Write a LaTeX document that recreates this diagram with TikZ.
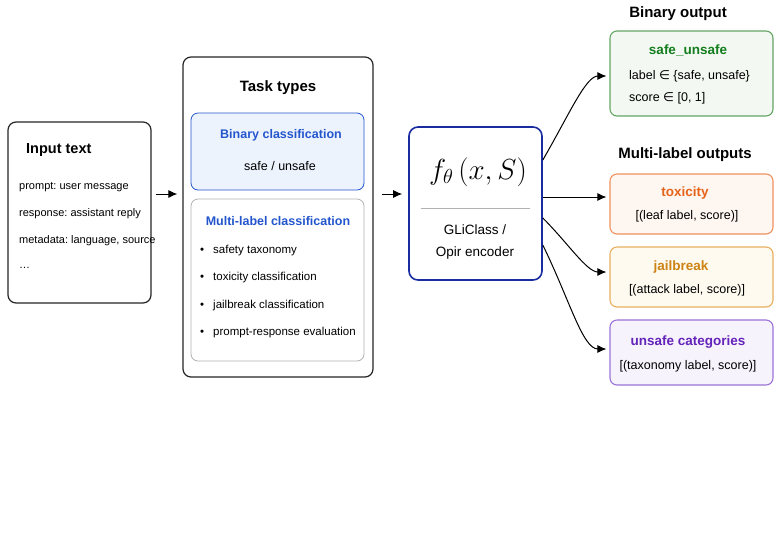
\RequirePackage{fix-cm}
\documentclass[tikz,border=0pt]{standalone}
\usepackage{fontspec}
\setmainfont{Liberation Sans}
\newfontfamily\symfont{DejaVu Sans}
\usetikzlibrary{arrows.meta,positioning,calc}
\definecolor{taskblue}{RGB}{35,85,205}
\definecolor{binfill}{RGB}{236,243,253}
\definecolor{modelblue}{RGB}{25,45,160}
\definecolor{safegreen}{RGB}{20,125,30}
\definecolor{safeedge}{RGB}{100,165,100}
\definecolor{safefill}{RGB}{243,249,242}
\definecolor{toxorange}{RGB}{230,100,25}
\definecolor{toxedge}{RGB}{240,145,95}
\definecolor{toxfill}{RGB}{254,246,241}
\definecolor{jailamber}{RGB}{205,130,20}
\definecolor{jailedge}{RGB}{232,175,95}
\definecolor{jailfill}{RGB}{254,250,239}
\definecolor{catpurple}{RGB}{100,35,185}
\definecolor{catedge}{RGB}{155,115,215}
\definecolor{catfill}{RGB}{247,243,253}
\newcommand{\elem}{{\symfont\char"2208}}
\frenchspacing

\begin{document}
\begin{tikzpicture}[x=1pt,y=1pt,
  panel/.style={draw=black!85,line width=1.2pt,rounded corners=8pt},
  subbox/.style={draw,line width=0.8pt,rounded corners=7pt,
    minimum width=173pt},
  outbox/.style={draw,line width=1.1pt,rounded corners=7pt,
    minimum width=163pt},
  head/.style={font=\fontsize{15}{18}\selectfont\bfseries},
  ttl/.style={font=\fontsize{13.5}{16}\selectfont\bfseries},
  small/.style={font=\fontsize{11}{13}\selectfont,anchor=west,inner sep=0pt},
  item/.style={font=\fontsize{11.5}{14}\selectfont,anchor=west,inner sep=0pt},
  body/.style={font=\fontsize{12.5}{15}\selectfont},
  arr/.style={-{Latex[length=9pt,width=8pt]},line width=1pt}
]
\fill[white] (0,0) rectangle (781,-550);

\node[panel,minimum width=143pt,minimum height=181pt] (input) at (79.5,-212.5) {};
\node[font=\fontsize{14.5}{17}\selectfont\bfseries,anchor=west,inner sep=0pt]
  (inputttl) at (26,-150) {Input text};
\node[small] (prompt) at (19,-187) {prompt: user message};
\node[small] (response) at (19,-214) {response: assistant reply};
\node[small] (meta) at (19,-241) {metadata: language, source};
\node[small] (more) at (19,-268) {\ldots};

\node[panel,minimum width=190pt,minimum height=320pt] (tasks) at (278,-217) {};
\node[head] (tasksttl) at (278,-88) {Task types};
\node[subbox,draw=taskblue,fill=binfill,minimum height=77pt] (binary)
  at (277.5,-151.5) {};
\node[ttl,font=\fontsize{12.5}{15}\selectfont\bfseries,text=taskblue]
  (binaryttl) at (281,-135) {Binary classification};
\node[body] (safeunsafe) at (280,-166) {safe / unsafe};
\node[subbox,draw=black!30,minimum height=162pt] (multi) at (277.5,-280) {};
\node[ttl,font=\fontsize{12.5}{15}\selectfont\bfseries,text=taskblue]
  (multittl) at (278,-221) {Multi-label classification};
\node[item] (b1) at (200,-251) {\textbullet};
\node[item] (i1) at (213,-251) {safety taxonomy};
\node[item] (b2) at (200,-278) {\textbullet};
\node[item] (i2) at (213,-278) {toxicity classification};
\node[item] (b3) at (200,-306) {\textbullet};
\node[item] (i3) at (213,-306) {jailbreak classification};
\node[item] (b4) at (200,-333) {\textbullet};
\node[item] (i4) at (213,-333) {prompt-response evaluation};

\node[draw=modelblue,line width=1.6pt,rounded corners=9pt,minimum width=133pt,
  minimum height=153pt] (model) at (475.5,-203.5) {};
\node[font=\fontsize{29}{34}\selectfont] (ftheta) at (478,-172) {$f_\theta\,(x,S)$};
\draw[black!30,line width=0.9pt] ($(model.west)+(13,-4.5)$) -- ($(model.east)+(-13,-4.5)$);
\node[font=\fontsize{13.5}{16}\selectfont] (gli) at (475,-230) {GLiClass /};
\node[font=\fontsize{13.5}{16}\selectfont] (opir) at (475,-253) {Opir encoder};

\node[head] (binhead) at (678,-14) {Binary output};
\node[outbox,draw=safeedge,fill=safefill,minimum height=85pt] (safe)
  at (691.5,-73.5) {};
\node[ttl,text=safegreen] (safettl) at (688,-50) {safe\_unsafe};
\node[body,anchor=west,inner sep=0pt] (lab) at (629,-76) {label \elem{} \{safe, unsafe\}};
\node[body,anchor=west,inner sep=0pt] (scr) at (629,-98) {score \elem{} [0, 1]};

\node[head] (multihead) at (685,-155) {Multi-label outputs};
\node[outbox,draw=toxedge,fill=toxfill,minimum height=60pt] (tox)
  at (691.5,-204) {};
\node[ttl,text=toxorange] (toxttl) at (685,-193) {toxicity};
\node[body] (toxval) at (687,-216) {[(leaf label, score)]};
\node[outbox,draw=jailedge,fill=jailfill,minimum height=60pt] (jail)
  at (691.5,-277) {};
\node[ttl,text=jailamber] (jailttl) at (681,-267) {jailbreak};
\node[body] (jailval) at (687,-290) {[(attack label, score)]};
\node[outbox,draw=catedge,fill=catfill,minimum height=65pt] (cats)
  at (691.5,-352.5) {};
\node[ttl,text=catpurple] (catsttl) at (688,-342) {unsafe categories};
\node[body] (catsval) at (688,-366) {[(taxonomy label, score)]};

\draw[arr] ([xshift=4pt,yshift=18.5pt]input.east) -- ([xshift=-5pt,yshift=23pt]tasks.west);
\draw[arr] ([xshift=8pt,yshift=23pt]tasks.east) -- ([xshift=-6pt,yshift=9.5pt]model.west);
\draw[arr] ([yshift=43.5pt]model.east) to[out=60,in=180,out looseness=1.3,in looseness=0.5]
  ([xshift=-3pt,yshift=-2.5pt]safe.west);
\draw[arr] ([yshift=6.5pt]model.east) -- ([xshift=-3pt,yshift=7pt]tox.west);
\draw[arr] ([yshift=-14.5pt]model.east) to[out=-45,in=180,out looseness=1.1,in looseness=0.6]
  ([xshift=-3pt,yshift=5pt]jail.west);
\draw[arr] ([yshift=-41.5pt]model.east) to[out=-64,in=180,out looseness=1.3,in looseness=0.5]
  ([xshift=-3pt,yshift=3.5pt]cats.west);
\end{tikzpicture}
\end{document}
